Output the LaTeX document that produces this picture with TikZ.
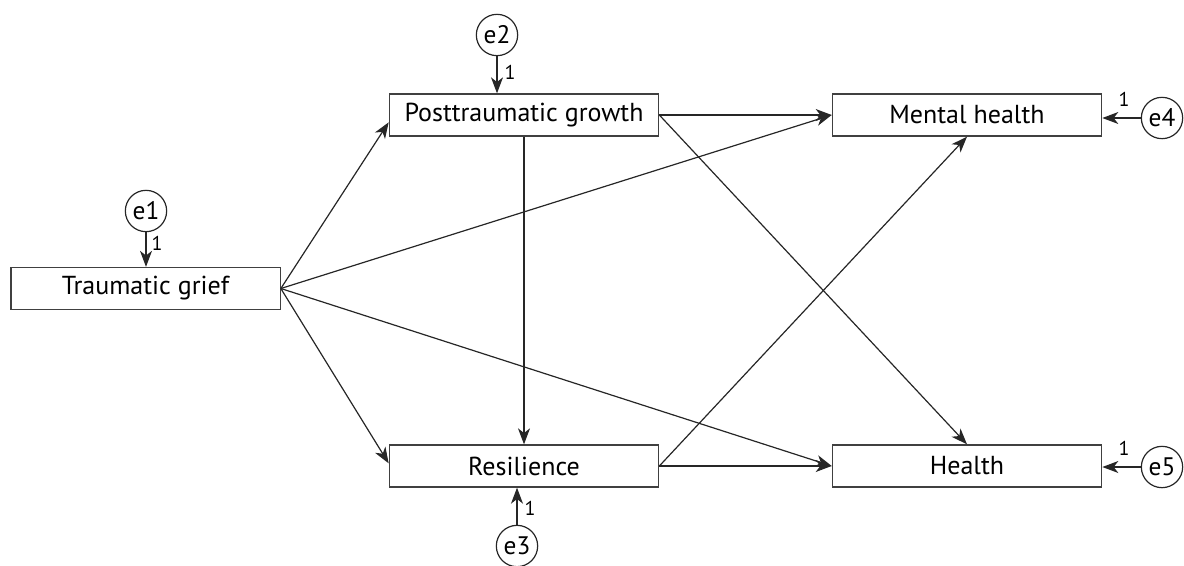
\documentclass[tikz,border=0pt]{standalone}
\usepackage{fontspec}
\setmainfont{PT Sans}
\usetikzlibrary{arrows.meta}
\begin{document}
\begin{tikzpicture}[x=0.75pt,y=-0.75pt,
  box/.style={draw=black!75,line width=1pt,rectangle,minimum width=202pt,minimum height=31.5pt,inner sep=0pt,font=\fontsize{19.5}{22}\selectfont},
  err/.style={draw=black!85,line width=0.9pt,circle,minimum size=31pt,inner sep=0pt,font=\fontsize{19}{22}\selectfont},
  path/.style={draw=black!85,line width=0.9pt,-{Stealth[length=12pt,width=9pt,inset=3.5pt]}},
  lbl/.style={font=\fontsize{15}{17}\selectfont,inner sep=0pt}]
\useasboundingbox (0,0) rectangle (1184,565);
\node[box] (tg) at (145.5,288.5) {Traumatic grief};
\node[box] (pg) at (524,115) {Posttraumatic growth};
\node[box] (rs) at (524,466) {Resilience};
\node[box] (mh) at (967,115) {Mental health};
\node[box] (he) at (967,466) {Health};
\node[err] (e1) at (146,211) {e1};
\node[err] (e2) at (497,35) {e2};
\node[err] (e3) at (517,546) {e3};
\node[err] (e4) at (1162,118) {e4};
\node[err] (e5) at (1162,467) {e5};
\coordinate (tgE) at (tg.east);
\coordinate (pgE) at (pg.east);
\coordinate (rsE) at (rs.east);
\draw[path] (e1) -- (e1 |- tg.north);
\draw[path] (e2) -- (e2 |- pg.north);
\draw[path] (e3) -- (e3 |- rs.south);
\draw[path] (e4) -- (e4 -| mh.east);
\draw[path] (e5) -- (e5 -| he.east);
\node[lbl] (l1) at (157,243) {1};
\node[lbl] (l2) at (510,72) {1};
\node[lbl] (l3) at (530,508) {1};
\node[lbl] (l4) at (1124,99) {1};
\node[lbl] (l5) at (1124,448) {1};
\draw[path] (tgE) -- ([yshift=-5.5pt]pg.west);
\draw[path] (tgE) -- ([yshift=2pt]rs.west);
\draw[path] (tgE) -- (mh.west);
\draw[path] (tgE) -- (he.west);
\draw[path] (pg.south) -- (rs.north);
\draw[path] (pgE) -- (mh.west);
\draw[path] (pgE) -- (he.north);
\draw[path] (rsE) -- (he.west);
\draw[path] (rsE) -- (mh.south);
\end{tikzpicture}
\end{document}
